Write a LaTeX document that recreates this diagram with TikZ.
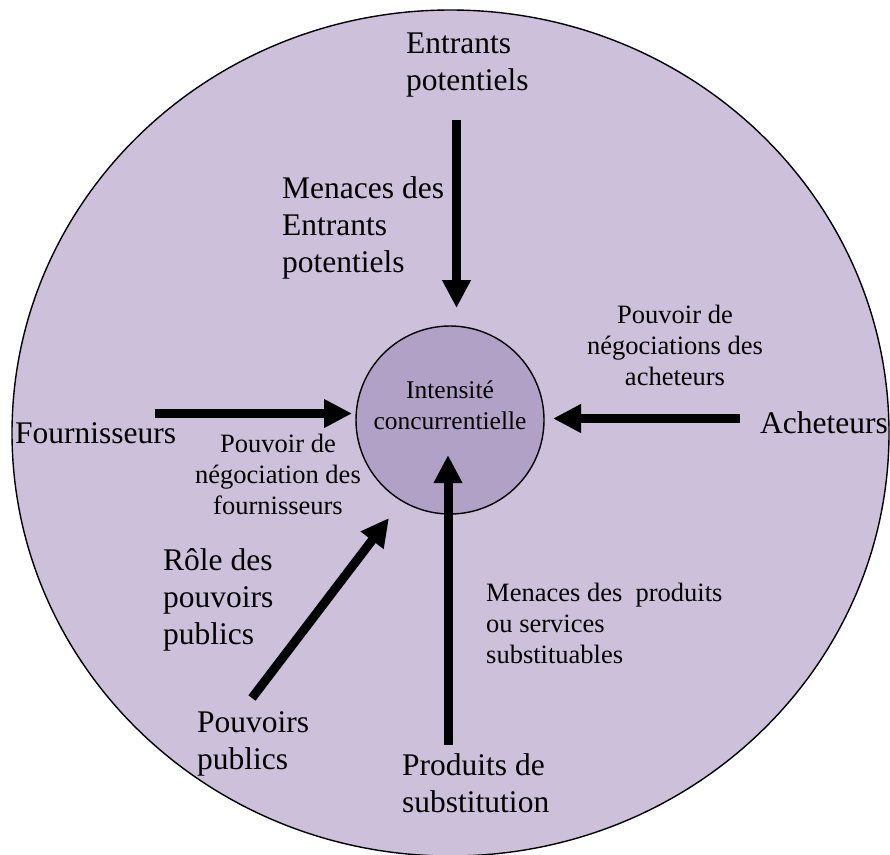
\documentclass[tikz,border=0pt]{standalone}
\usepackage{fontspec}
\setmainfont{Liberation Serif}
\usetikzlibrary{arrows.meta}
\definecolor{outerfill}{RGB}{204,192,218}
\definecolor{innerfill}{RGB}{177,161,199}
\begin{document}
\begin{tikzpicture}[x=1pt,y=-1pt,
  bigtxt/.style={font=\fontsize{31.5}{37}\selectfont, inner sep=0pt, align=left, anchor=north west},
  smalltxt/.style={font=\fontsize{26.5}{31}\selectfont, inner sep=0pt, align=center, anchor=north},
  force/.style={line width=9pt, -{Triangle[length=28pt,width=27pt]}},
]
\useasboundingbox (0,0) rectangle (890,854);
\begin{scope}
  \clip (0,0) rectangle (890,854);
  \draw[fill=outerfill, line width=1.4pt] (450.5,433) ellipse [x radius=438.5, y radius=423];
\end{scope}

\node[circle, draw, fill=innerfill, line width=1.4pt, minimum size=188pt, inner sep=0pt] (core) at (450,420) {};
\node[font=\fontsize{25.5}{31}\selectfont, inner sep=0pt, align=center, anchor=north] (coretext) at (450,381) {Intensité\\concurrentielle};

\node[bigtxt] (entrants) at (406,33) {Entrants\\potentiels};
\node[bigtxt] (menT) at (282,176.5) {Menaces des\\Entrants\\potentiels};
\node[smalltxt] (pouvA) at (675,305) {Pouvoir de\\négociations des\\acheteurs};
\node[bigtxt] (fourn) at (15,422) {Fournisseurs};
\node[bigtxt] (achet) at (760,411) {Acheteurs};
\node[smalltxt] (pouvF) at (278,434) {Pouvoir de\\négociation des\\fournisseurs};
\node[bigtxt] (role) at (163,548.5) {Rôle des\\pouvoirs\\publics};
\node[bigtxt] (pp) at (197,711) {Pouvoirs\\publics};
\node[smalltxt, align=left, anchor=north west] (menP) at (486,583) {Menaces des\ \ produits\\ou services\\substituables};
\node[bigtxt] (prod) at (402,753) {Produits de\\substitution};

\coordinate (tailT) at (456.5,120);
\coordinate (tipT) at (456.5,308);
\coordinate (tailR) at (740,418.5);
\coordinate (tipR) at (553,418.5);
\coordinate (tailL) at (155,413.5);
\coordinate (tipL) at (352,413.5);
\coordinate (tailD) at (252,698);
\coordinate (tipD) at (389,518);
\coordinate (tailB) at (448,745);
\coordinate (tipB) at (448,455);

\draw[force] (tailT) -- (tipT);
\draw[force] (tailR) -- (tipR);
\draw[force] (tailL) -- (tipL);
\draw[force] (tailD) -- (tipD);
\draw[force] (tailB) -- (tipB);
\end{tikzpicture}
\end{document}
